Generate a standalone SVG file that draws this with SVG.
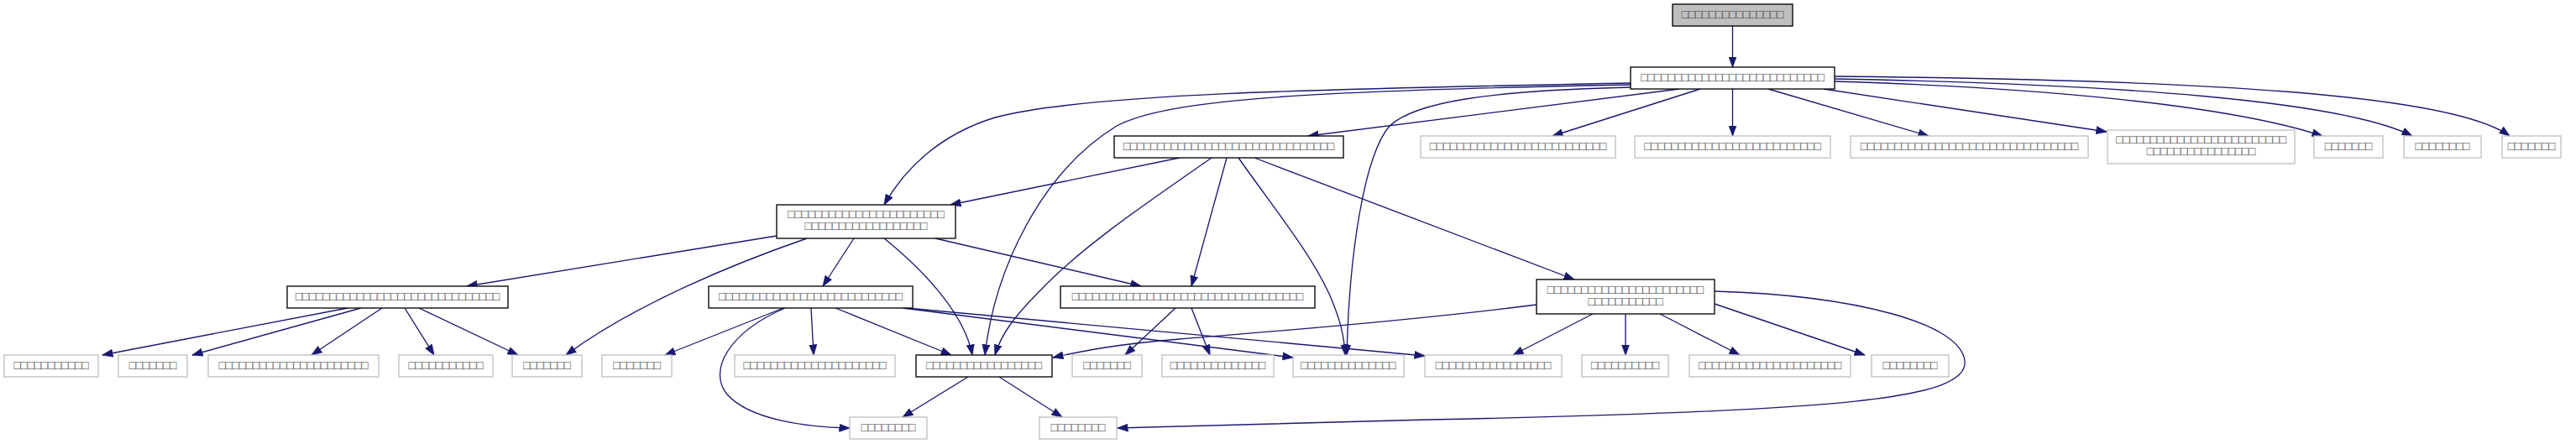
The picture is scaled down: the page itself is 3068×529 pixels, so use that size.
<svg xmlns="http://www.w3.org/2000/svg" width="3068" height="529" viewBox="0 0 3068 529">
<style>
.nd rect{fill:#ffffff;stroke:#000000;stroke-width:1.33}
.ug rect{fill:#ffffff;stroke:#bfbfbf;stroke-width:1.33}
.rt rect{fill:#bfbfbf;stroke:#000000;stroke-width:1.33}
text{font-family:"Liberation Sans","DejaVu Sans",sans-serif;font-size:14.5px;font-weight:bold;fill:#404040;text-anchor:middle}
#edges path{fill:none;stroke:#191970;stroke-width:1.33;marker-end:url(#arr)}
</style>
<defs>
<marker id="arr" viewBox="0 0 13 10" refX="12.5" refY="5" markerWidth="13" markerHeight="10" markerUnits="userSpaceOnUse" orient="auto">
<path d="M0,0.3 L13,5 L0,9.7 z" fill="#191970" stroke="#191970" stroke-width="0.5"/>
</marker>
</defs>
<rect width="3068" height="529" fill="#ffffff"/>
<g id="edges">
<path d="M2063.5,31 L2063.5,80"/>
<path d="M2000,106 L1558,162"/>
<path d="M2025,106 L1849,162"/>
<path d="M2063.5,106 L2063.5,162"/>
<path d="M2106,106 L2297,162"/>
<path d="M2172,106 L2509,157"/>
<path d="M2185,97 C2420,104 2650,124 2766,162"/>
<path d="M2185,94 C2520,100 2790,120 2873,162"/>
<path d="M2185,91 C2620,95 2920,112 2989,162"/>
<path d="M1942,99 C1560,106 1290,112 1185,140 C1120,160 1078,200 1053,244"/>
<path d="M1942,101 C1560,108 1390,118 1330,150 C1240,205 1185,320 1173,423"/>
<path d="M1942,104 C1770,108 1685,122 1655,150 C1625,185 1607,300 1604,423"/>
<path d="M1405,188 L1132,244"/>
<path d="M1443,188 C1380,232 1290,292 1240,345 C1205,380 1192,400 1185,423"/>
<path d="M1461,188 L1419,341"/>
<path d="M1475,188 C1515,245 1560,300 1583,350 C1596,380 1601,400 1602,423"/>
<path d="M1494,188 L1875,333"/>
<path d="M925,281 L556,341"/>
<path d="M961,284 C880,312 760,360 674,423"/>
<path d="M1017,284 L980,341"/>
<path d="M1053,284 C1110,330 1150,380 1158,423"/>
<path d="M1114,284 L1359,341"/>
<path d="M414,367 L122,423"/>
<path d="M430,367 L229,423"/>
<path d="M455,367 L371,423"/>
<path d="M482,367 L517,423"/>
<path d="M499,367 L617,423"/>
<path d="M933,367 L792,423"/>
<path d="M935,367 C870,395 842,440 866,470 C893,500 960,509 1012,510"/>
<path d="M966,367 L969,423"/>
<path d="M995,367 L1133,423"/>
<path d="M1075,367 L1540,426"/>
<path d="M1080,367 L1697,424"/>
<path d="M1400,367 L1340,423"/>
<path d="M1419,367 L1441,423"/>
<path d="M1830,363 C1650,386 1470,398 1405,404 C1330,410 1290,418 1254,426"/>
<path d="M1897,374 L1802,423"/>
<path d="M1936,374 L1936,423"/>
<path d="M1977,374 L2072,423"/>
<path d="M2042,362 L2221,423"/>
<path d="M2042,347 C2210,352 2335,385 2340,430 C2345,475 2200,490 1700,500 C1500,505 1400,508 1331,510"/>
<path d="M1153,449 L1075,497"/>
<path d="M1190,449 L1265,497"/>
</g>
<g id="n0" class="rt"><rect x="1992" y="5" width="143" height="26"/><text x="2063.5" y="22" textLength="121.5" lengthAdjust="spacingAndGlyphs">□□□□□□□□□□□□□□□</text></g>
<g id="n1" class="nd"><rect x="1942" y="80" width="243" height="26"/><text x="2063.5" y="97" textLength="218.7" lengthAdjust="spacingAndGlyphs">□□□□□□□□□□□□□□□□□□□□□□□□□□□</text></g>
<g id="nA" class="nd"><rect x="1327" y="162" width="273" height="26"/><text x="1463.5" y="179" textLength="251.1" lengthAdjust="spacingAndGlyphs">□□□□□□□□□□□□□□□□□□□□□□□□□□□□□□□</text></g>
<g id="nG1" class="ug"><rect x="1692" y="162" width="232" height="26"/><text x="1808" y="179" textLength="210.6" lengthAdjust="spacingAndGlyphs">□□□□□□□□□□□□□□□□□□□□□□□□□□</text></g>
<g id="nG2" class="ug"><rect x="1947" y="162" width="233" height="26"/><text x="2063.5" y="179" textLength="210.6" lengthAdjust="spacingAndGlyphs">□□□□□□□□□□□□□□□□□□□□□□□□□□</text></g>
<g id="nG3" class="ug"><rect x="2204" y="162" width="283" height="26"/><text x="2345.5" y="179" textLength="259.2" lengthAdjust="spacingAndGlyphs">□□□□□□□□□□□□□□□□□□□□□□□□□□□□□□□□</text></g>
<g id="nG4" class="ug"><rect x="2510" y="155" width="223" height="40"/><text x="2621.5" y="171" textLength="202.5" lengthAdjust="spacingAndGlyphs">□□□□□□□□□□□□□□□□□□□□□□□□□</text><text x="2621.5" y="185" textLength="129.6" lengthAdjust="spacingAndGlyphs">□□□□□□□□□□□□□□□□</text></g>
<g id="nG5" class="ug"><rect x="2756" y="162" width="82" height="26"/><text x="2797" y="179" textLength="56.7" lengthAdjust="spacingAndGlyphs">□□□□□□□</text></g>
<g id="nG6" class="ug"><rect x="2863" y="162" width="92" height="26"/><text x="2909" y="179" textLength="64.8" lengthAdjust="spacingAndGlyphs">□□□□□□□□</text></g>
<g id="nG7" class="ug"><rect x="2980" y="162" width="70" height="26"/><text x="3015" y="179" textLength="56.7" lengthAdjust="spacingAndGlyphs">□□□□□□□</text></g>
<g id="nB" class="nd"><rect x="925" y="244" width="213" height="40"/><text x="1031.5" y="260" textLength="186.3" lengthAdjust="spacingAndGlyphs">□□□□□□□□□□□□□□□□□□□□□□□</text><text x="1031.5" y="274" textLength="145.8" lengthAdjust="spacingAndGlyphs">□□□□□□□□□□□□□□□□□□</text></g>
<g id="nC" class="nd"><rect x="342" y="341" width="263" height="26"/><text x="473.5" y="358" textLength="243" lengthAdjust="spacingAndGlyphs">□□□□□□□□□□□□□□□□□□□□□□□□□□□□□□</text></g>
<g id="nD" class="nd"><rect x="844" y="341" width="243" height="26"/><text x="965.5" y="358" textLength="218.7" lengthAdjust="spacingAndGlyphs">□□□□□□□□□□□□□□□□□□□□□□□□□□□</text></g>
<g id="nE" class="nd"><rect x="1263" y="341" width="303" height="26"/><text x="1414.5" y="358" textLength="275.4" lengthAdjust="spacingAndGlyphs">□□□□□□□□□□□□□□□□□□□□□□□□□□□□□□□□□□</text></g>
<g id="nF" class="nd"><rect x="1830" y="333" width="212" height="41"/><text x="1936" y="349.5" textLength="186.3" lengthAdjust="spacingAndGlyphs">□□□□□□□□□□□□□□□□□□□□□□□</text><text x="1936" y="363.5" textLength="89.1" lengthAdjust="spacingAndGlyphs">□□□□□□□□□□□</text></g>
<g id="r5a" class="ug"><rect x="5" y="423" width="112" height="26"/><text x="61" y="440" textLength="89.1" lengthAdjust="spacingAndGlyphs">□□□□□□□□□□□</text></g>
<g id="r5b" class="ug"><rect x="141" y="423" width="82" height="26"/><text x="182" y="440" textLength="56.7" lengthAdjust="spacingAndGlyphs">□□□□□□□</text></g>
<g id="r5c" class="ug"><rect x="248" y="423" width="203" height="26"/><text x="349.5" y="440" textLength="178.2" lengthAdjust="spacingAndGlyphs">□□□□□□□□□□□□□□□□□□□□□□</text></g>
<g id="r5d" class="ug"><rect x="475" y="423" width="112" height="26"/><text x="531" y="440" textLength="89.1" lengthAdjust="spacingAndGlyphs">□□□□□□□□□□□</text></g>
<g id="r5e" class="ug"><rect x="610" y="423" width="83" height="26"/><text x="651.5" y="440" textLength="56.7" lengthAdjust="spacingAndGlyphs">□□□□□□□</text></g>
<g id="r5f" class="ug"><rect x="717" y="423" width="83" height="26"/><text x="758.5" y="440" textLength="56.7" lengthAdjust="spacingAndGlyphs">□□□□□□□</text></g>
<g id="r5g" class="ug"><rect x="875" y="423" width="191" height="26"/><text x="970.5" y="440" textLength="170.1" lengthAdjust="spacingAndGlyphs">□□□□□□□□□□□□□□□□□□□□□</text></g>
<g id="r5h" class="nd"><rect x="1091" y="423" width="162" height="26"/><text x="1172" y="440" textLength="137.7" lengthAdjust="spacingAndGlyphs">□□□□□□□□□□□□□□□□□</text></g>
<g id="r5i" class="ug"><rect x="1277" y="423" width="83" height="26"/><text x="1318.5" y="440" textLength="56.7" lengthAdjust="spacingAndGlyphs">□□□□□□□</text></g>
<g id="r5j" class="ug"><rect x="1384" y="423" width="133" height="26"/><text x="1450.5" y="440" textLength="113.4" lengthAdjust="spacingAndGlyphs">□□□□□□□□□□□□□□</text></g>
<g id="r5k" class="ug"><rect x="1540" y="423" width="132" height="26"/><text x="1606" y="440" textLength="113.4" lengthAdjust="spacingAndGlyphs">□□□□□□□□□□□□□□</text></g>
<g id="r5l" class="ug"><rect x="1697" y="423" width="163" height="26"/><text x="1778.5" y="440" textLength="137.7" lengthAdjust="spacingAndGlyphs">□□□□□□□□□□□□□□□□□</text></g>
<g id="r5m" class="ug"><rect x="1884" y="423" width="103" height="26"/><text x="1935.5" y="440" textLength="81" lengthAdjust="spacingAndGlyphs">□□□□□□□□□□</text></g>
<g id="r5n" class="ug"><rect x="2012" y="423" width="192" height="26"/><text x="2108" y="440" textLength="170.1" lengthAdjust="spacingAndGlyphs">□□□□□□□□□□□□□□□□□□□□□</text></g>
<g id="r5o" class="ug"><rect x="2229" y="423" width="92" height="26"/><text x="2275" y="440" textLength="64.8" lengthAdjust="spacingAndGlyphs">□□□□□□□□</text></g>
<g id="r6a" class="ug"><rect x="1012" y="497" width="92" height="26"/><text x="1058" y="514" textLength="64.8" lengthAdjust="spacingAndGlyphs">□□□□□□□□</text></g>
<g id="r6b" class="ug"><rect x="1238" y="497" width="92" height="26"/><text x="1284" y="514" textLength="64.8" lengthAdjust="spacingAndGlyphs">□□□□□□□□</text></g>
</svg>
